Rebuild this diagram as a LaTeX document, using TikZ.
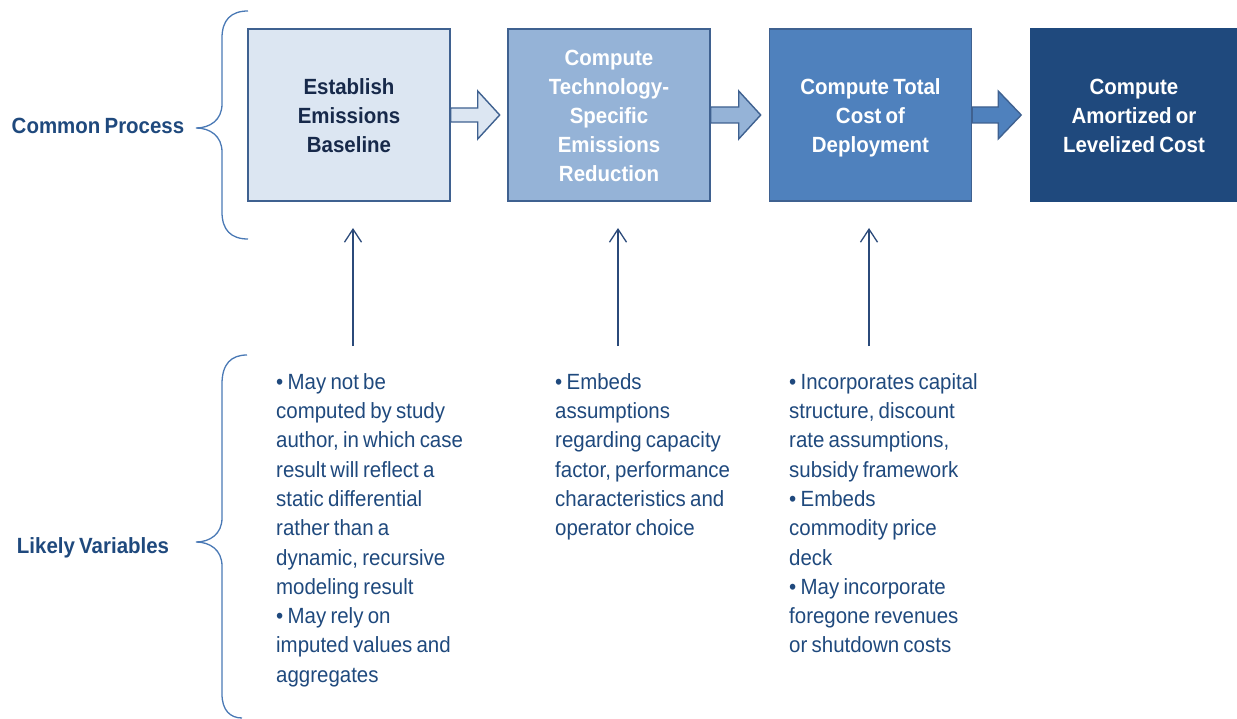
\documentclass[tikz,border=0pt]{standalone}
\usepackage{fontspec}
\setmainfont{Liberation Sans}[FakeStretch=0.93, WordSpace=0.75]
\usetikzlibrary{arrows.meta,calc}
\definecolor{bfill1}{HTML}{DCE6F2}
\definecolor{bfill2}{HTML}{95B3D7}
\definecolor{bfill3}{HTML}{4F81BD}
\definecolor{bfill4}{HTML}{1F497D}
\definecolor{bline}{HTML}{3F6190}
\definecolor{navy}{HTML}{1F497D}
\definecolor{darknavy}{HTML}{17294A}
\definecolor{bracec}{HTML}{4A79B5}
\definecolor{arrc}{HTML}{2B4A7A}
\newcommand{\topstrut}{\rule{0pt}{25.3pt}}
\tikzset{
  box/.style={draw=bline, line width=1.4pt, minimum width=202pt, minimum height=172pt,
    align=center, inner sep=0pt, font=\fontsize{22}{29}\selectfont\bfseries},
  blockarrow/.style={draw=bline, line width=1.4pt},
  label/.style={font=\fontsize{22}{26}\selectfont\bfseries, text=navy, inner sep=0pt, anchor=base},
  notes/.style={anchor=north west, align=left, inner sep=0pt, text=navy,
    font=\fontsize{22}{29.3}\selectfont},
  brace/.style={draw=bracec, line width=1.3pt},
  varr/.style={draw=arrc, line width=1.3pt, -{Straight Barb[length=13pt,width=17pt]}}
}
\begin{document}
\begin{tikzpicture}[x=1pt,y=-1pt]
\useasboundingbox (0,0) rectangle (1237,719);
% boxes
\node[box, fill=bfill1, text=darknavy] (b1) at (349,115) {\topstrut Establish\\Emissions\\Baseline\strut};
\node[box, fill=bfill2, text=white] (b2) at (609,115) {\topstrut Compute\\Technology-\\Specific\\Emissions\\Reduction\strut};
\node[box, fill=bfill3, text=white] (b3) at (870.5,115) {\topstrut Compute Total\\Cost of\\Deployment\strut};
\node[box, fill=bfill4, draw=bfill4, text=white, minimum width=206pt] (b4) at (1134,115) {\topstrut Compute\\Amortized or\\Levelized Cost\strut};
% block arrows
\draw[blockarrow, fill=bfill1] ($(b1.east)+(0,-7)$) -- ++(27,0) -- ++(0,-17) -- ++(22,24) -- ++(-22,24) -- ++(0,-17) -- ++(-27,0) -- cycle;
\draw[blockarrow, fill=bfill2] ($(b2.east)+(0,-8)$) -- ++(28,0) -- ++(0,-16) -- ++(22,24) -- ++(-22,24) -- ++(0,-16) -- ++(-28,0) -- cycle;
\draw[blockarrow, fill=bfill3] ($(b3.east)+(0,-8)$) -- ++(26,0) -- ++(0,-16) -- ++(23,24) -- ++(-23,24) -- ++(0,-16) -- ++(-26,0) -- cycle;
% labels
\node[label] (lcp) at (98,134) {Common Process};
\node[label] (llv) at (93,553) {Likely Variables};
% braces
\draw[brace] (248,11) .. controls (231,11) and (222,20) .. (222,38) -- (222,104)
  .. controls (222,120) and (210,128) .. (196,128)
  .. controls (210,128) and (222,136) .. (222,152) -- (222,212)
  .. controls (222,230) and (231,239) .. (248,239);
\draw[brace] (247,355) .. controls (231,355) and (222,364) .. (222,384) -- (222,518)
  .. controls (222,534) and (210,542) .. (196,542)
  .. controls (210,542) and (222,550) .. (222,566) -- (222,694)
  .. controls (222,710) and (230,718) .. (242,718);
% notes
\node[notes] (t1) at (276,368.5) {\strut• May not be\\computed by study\\author, in which case\\result will reflect a\\static differential\\rather than a\\dynamic, recursive\\modeling result\\• May rely on\\imputed values and\\aggregates};
\node[notes] (t2) at (555,368.5) {\strut• Embeds\\assumptions\\regarding capacity\\factor, performance\\characteristics and\\operator choice};
\node[notes] (t3) at (789,368.5) {\strut• Incorporates capital\\structure, discount\\rate assumptions,\\subsidy framework\\• Embeds\\commodity price\\deck\\• May incorporate\\foregone revenues\\or shutdown costs};
% vertical arrows
\coordinate (a1s) at (353,346);
\coordinate (a1e) at (353,228);
\coordinate (a2s) at (618,346);
\coordinate (a2e) at (618,228);
\coordinate (a3s) at (869,346);
\coordinate (a3e) at (869,228);
\draw[varr] (a1s) -- (a1e);
\draw[varr] (a2s) -- (a2e);
\draw[varr] (a3s) -- (a3e);
\end{tikzpicture}
\end{document}
